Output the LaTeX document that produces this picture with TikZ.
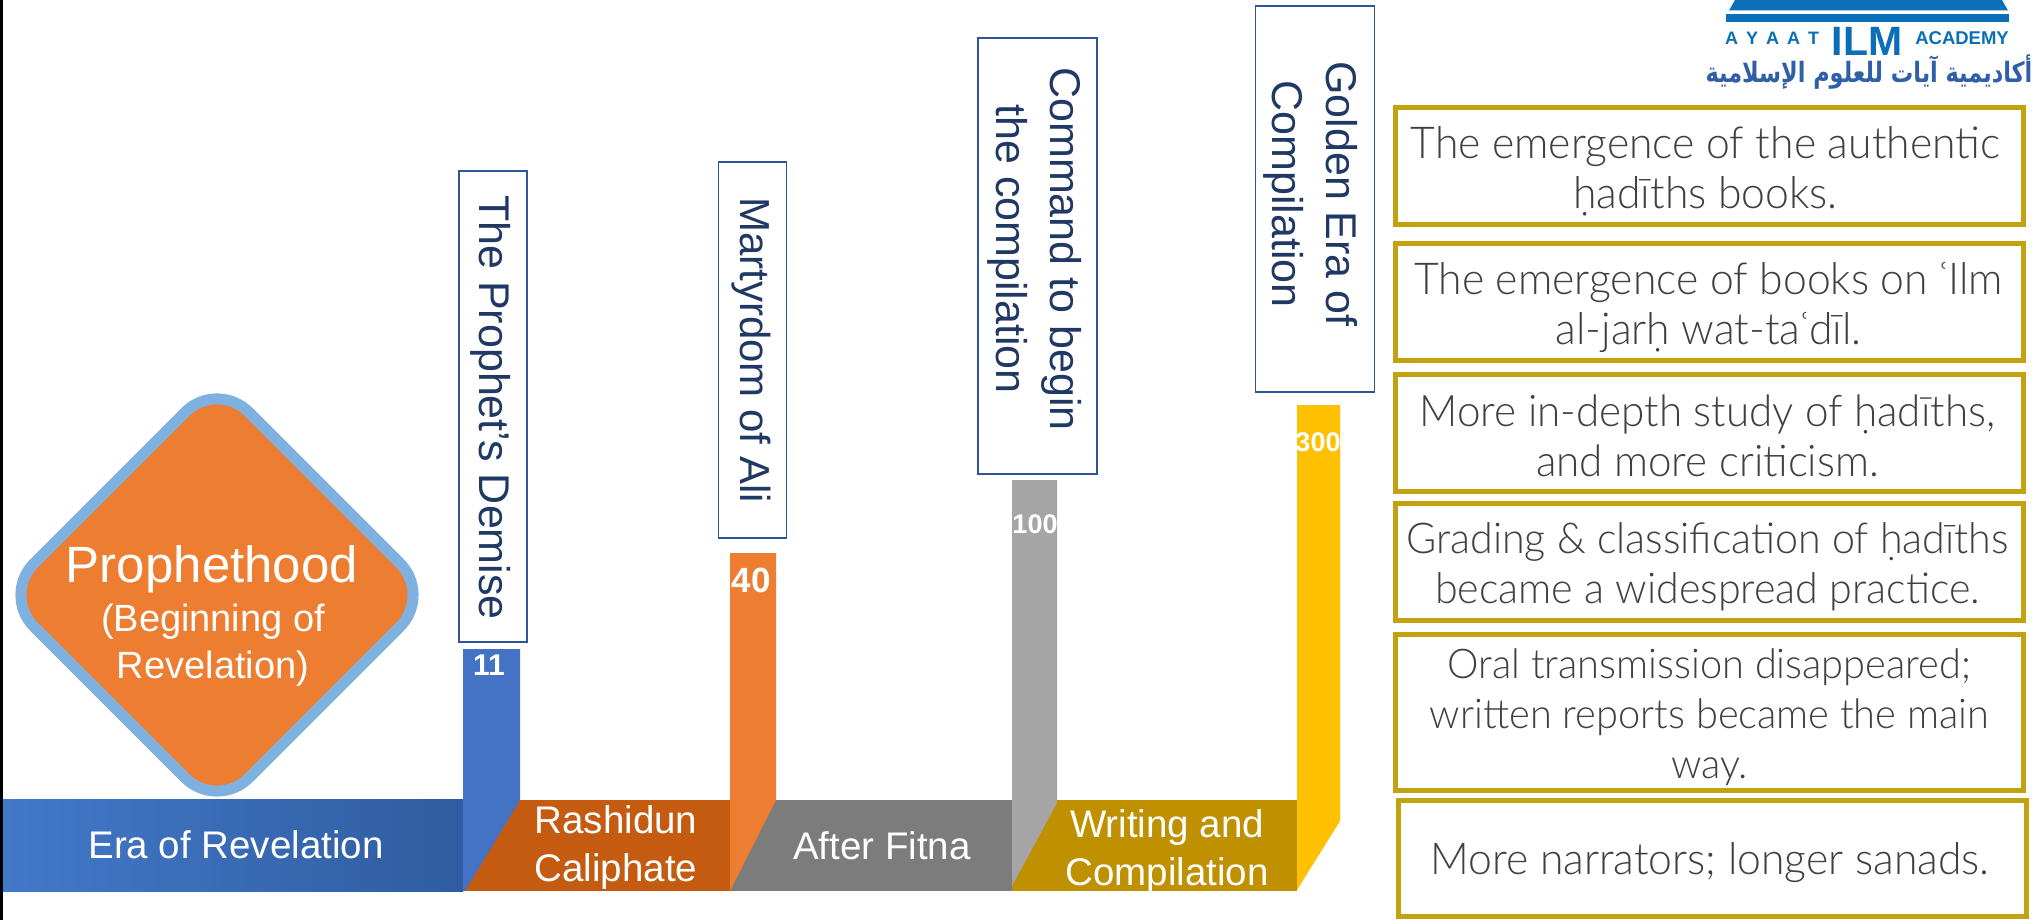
\documentclass[tikz,border=0pt]{standalone}
\usepackage{fontspec}
\usepackage{graphicx}
\usetikzlibrary{shapes.geometric}
\setmainfont{Liberation Sans}
\newfontfamily\lightfont[FakeStretch=0.97]{Lato Light}
\newfontfamily\arabicfont[Script=Arabic]{DejaVu Sans}
\TeXXeTstate=1
\newcommand{\pxfont}[2]{\fontsize{#1}{#2}\selectfont}
\definecolor{ringblue}{HTML}{7FB1E0}
\definecolor{cOrange}{HTML}{ED7D31}
\definecolor{cOrangeD}{HTML}{C55A11}
\definecolor{cBlue}{HTML}{4472C4}
\definecolor{cEraL}{HTML}{4379C9}
\definecolor{cEraR}{HTML}{2F5CA0}
\definecolor{cGray}{HTML}{A5A5A5}
\definecolor{cGrayD}{HTML}{7C7C7C}
\definecolor{cGold}{HTML}{BF9000}
\definecolor{cYellow}{HTML}{FFC000}
\definecolor{cFrame}{HTML}{C2A20F}
\definecolor{cNavy}{HTML}{1F3864}
\definecolor{cEdge}{HTML}{2F5597}
\definecolor{cLogo}{HTML}{0B6FB8}
\definecolor{cArab}{HTML}{2F5FA8}
\definecolor{cText}{HTML}{404040}
\tikzset{
  framebox/.style={draw=cFrame,line width=5pt,fill=white,inner sep=0pt,minimum width=628pt},
  frametext/.style={inner sep=0pt,align=center,text=cText,font=\lightfont\pxfont{44}{50}},
  sidebox/.style={draw=cEdge,line width=1.4pt,fill=white,inner sep=0pt,rotate=-90},
  sidetext/.style={inner sep=0pt,rotate=-90,align=center,text=cNavy,font=\pxfont{43}{54}},
  barlabel/.style={text=white,align=center,inner sep=0pt,font=\pxfont{38.5}{48}},
  yearlabel/.style={text=white,inner sep=0pt,font=\bfseries\pxfont{#1}{#1}},
}
\begin{document}
\begin{tikzpicture}[x=1pt,y=-1pt]
\useasboundingbox (0,0) rectangle (2034,920);
\fill[white] (0,0) rectangle (2034,920);
\fill[black] (0,0) rectangle (3,920);
% bars
\fill[left color=cEraL,right color=cEraR] (3,799) rectangle (463,891);
\fill[cOrangeD] (465,800) -- (731,800) -- (731,891) -- (465,891) -- cycle;
\fill[cGrayD] (731,800) -- (1012,800) -- (1012,891) -- (731,891) -- cycle;
\fill[cGold] (1012,800) -- (1297,800) -- (1297,891) -- (1012,891) -- cycle;
% columns
\fill[cBlue] (463,649) -- (520,649) -- (520,800) -- (465,891) -- (463,891) -- cycle;
\fill[cOrange] (730,553) -- (776,553) -- (776,800) -- (730,891) -- cycle;
\fill[cGray] (1012,480) -- (1057,480) -- (1057,803) -- (1012,886) -- cycle;
\fill[cYellow] (1297,405) -- (1340,405) -- (1340,821) -- (1297,890) -- cycle;
% diamond
\node[diamond,draw=ringblue,line width=11pt,fill=cOrange,rounded corners=45pt,inner sep=0pt,
  minimum width=434pt,minimum height=434pt] (prophet) at (217,595) {};
\node[text=white,inner sep=0pt,font=\pxfont{51}{51}] (prophetT) at (212,569) {Prophethood};
\node[text=white,inner sep=0pt,align=center,font=\pxfont{38}{47}] (prophetS) at (213,645) {(Beginning of\\Revelation)};
% bar labels
\node[barlabel] (era) at (236,845) {Era of Revelation};
\node[barlabel] (rash) at (616,848) {Rashidun\\Caliphate};
\node[barlabel] (fitna) at (882,846) {After Fitna};
\begin{scope}
\clip (1012,800) rectangle (1297,891);
\node[barlabel] (writing) at (1167,852) {Writing and\\Compilation};
\end{scope}
% years
\node[yearlabel=30] (y11) at (489,665) {11};
\node[yearlabel=35] (y40) at (751,580) {40};
\node[yearlabel=27] (y100) at (1035,524) {100};
\node[yearlabel=27] (y300) at (1318,442) {300};
% side labels
\node[sidebox,minimum width=471pt,minimum height=68pt] (demise) at (493,406.5) {};
\node[sidetext] (demiseT) at ([shift={(-2,1)}]demise.center) {The Prophet’s Demise};
\node[sidebox,minimum width=376pt,minimum height=68pt] (ali) at (752.5,350) {};
\node[sidetext,font=\pxfont{42}{54}] (aliT) at ([shift={(-1,0)}]ali.center) {Martyrdom of Ali};
\node[sidebox,minimum width=436pt,minimum height=119pt] (command) at (1037.5,256) {};
\node[sidetext] (commandT) at ([shift={(-3,-7)}]command.center) {Command to begin\\the compilation};
\node[sidebox,minimum width=386pt,minimum height=119pt] (golden) at (1315,199) {};
\node[sidetext] (goldenT) at ([shift={(-4,-5)}]golden.center) {Golden Era of\\Compilation};
% right boxes
\node[framebox,minimum height=117pt] (b1) at (1709.5,166) {};
\node[frametext] (t1) at ([shift={(-4,5)}]b1.center) {The emergence of the authentic\\ḥadīths books.};
\node[framebox,minimum height=117pt] (b2) at (1709.5,302) {};
\node[frametext] (t2) at ([shift={(-1,5)}]b2.center) {The emergence of books on ʿIlm\\al-jarḥ wat-taʿdīl.};
\node[framebox,minimum height=117pt] (b3) at (1709.5,433) {};
\node[frametext,font=\lightfont\pxfont{43.5}{50}] (t3) at ([shift={(-2,3)}]b3.center) {More in-depth study of ḥadīths,\\and more criticism.};
\node[framebox,minimum height=117pt] (b4) at (1709.5,562) {};
\node[frametext,font=\lightfont\pxfont{42.5}{50}] (t4) at ([shift={(-2,5)}]b4.center) {Grading \& classification of ḥadīths\\became a widespread practice.};
\node[framebox,minimum height=156pt] (b5) at (1709.5,712.5) {};
\node[frametext,font=\lightfont\pxfont{41}{50}] (t5) at ([shift={(0,5)}]b5.center) {Oral transmission disappeared;\\written reports became the main\\way.};
\node[framebox,minimum height=116pt] (b6) at (1712,858.5) {};
\node[frametext] (t6) at ([shift={(-2,4)}]b6.center) {More narrators; longer sanads.};
% logo
\fill[cLogo] (1735,0) -- (2002,0) -- (2008,10.5) -- (1729,10.5) -- cycle;
\fill[cLogo] (1726,14) rectangle (2009,22);
\node[text=cLogo,inner sep=0pt,font=\bfseries\pxfont{18}{18},anchor=west] (logoA) at (1725,38) {A\hspace{8pt}Y\hspace{8pt}A\hspace{8pt}A\hspace{8pt}T};
\node[text=cLogo,inner sep=0pt,font=\bfseries\pxfont{41}{41},anchor=center] (logoB) at (1867,41) {ILM};
\node[text=cLogo,inner sep=0pt,font=\bfseries\pxfont{18.5}{18},anchor=east] (logoC) at (2009,38) {ACADEMY};
\node[text=cArab,inner sep=0pt,font=\arabicfont\bfseries\pxfont{28}{28}] (logoD) at (1869,72) {\scalebox{0.8}[1]{\beginR أكاديمية آيات للعلوم الإسلامية\endR}};
\end{tikzpicture}
\end{document}
